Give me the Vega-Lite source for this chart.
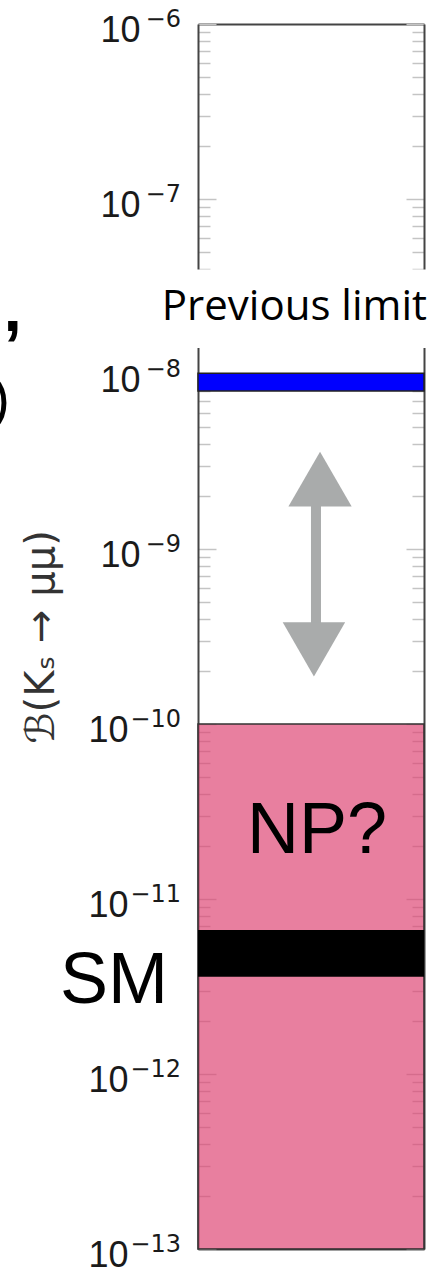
{
  "$schema": "https://vega.github.io/schema/vega-lite/v6.json",
  "width": 226,
  "height": 1225,
  "autosize": {"type": "none"},
  "padding": {"left": 198, "top": 24, "right": 14, "bottom": 18},
  "background": "white",
  "config": {"view": {"stroke": null}},
  "datasets": {
    "bands": [
      {"band": "NP", "lo": 1e-13, "hi": 1e-10},
      {"band": "SM", "lo": 3.6e-12, "hi": 6.65e-12},
      {"band": "Previous limit", "lo": 8.0e-9, "hi": 1.01e-8}
    ],
    "gap": [{"lo": 1.41e-8, "hi": 3.95e-8}],
    "arrow": [{"lower": 2.67e-10, "upper": 2.51e-9, "shaft_lo": 3.63e-10, "shaft_hi": 1.78e-9}],
    "exps": [
      {"value": 1e-6, "exp": "−6"},
      {"value": 1e-7, "exp": "−7"},
      {"value": 1e-8, "exp": "−8"},
      {"value": 1e-9, "exp": "−9"},
      {"value": 1e-10, "exp": "−10"},
      {"value": 1e-11, "exp": "−11"},
      {"value": 1e-12, "exp": "−12"},
      {"value": 1e-13, "exp": "−13"}
    ],
    "labels": [
      {"label": "NP?", "y": 1.83e-11},
      {"label": "SM", "y": 2.55e-12},
      {"label": "Previous limit", "y": 2.04e-8},
      {"label": ",", "y": 1.75e-8},
      {"label": ")", "y": 7.1e-9}
    ]
  },
  "layer": [
    {
      "data": {"name": "bands"},
      "transform": [{"filter": "datum.band === 'NP'"}],
      "mark": {"type": "rect", "fill": "#dd4070", "fillOpacity": 0.67, "stroke": "#333333", "strokeWidth": 1.5, "clip": false},
      "encoding": {
        "y": {
          "field": "lo", "type": "quantitative",
          "scale": {"type": "log", "domain": [1e-13, 1e-6], "nice": false},
          "axis": {
            "orient": "left", "zindex": 0, "grid": false,
            "values": [1e-13, 2e-13, 3e-13, 4e-13, 5e-13, 6e-13, 7e-13, 8e-13, 9e-13,
                       1e-12, 2e-12, 3e-12, 4e-12, 5e-12, 6e-12, 7e-12, 8e-12, 9e-12,
                       1e-11, 2e-11, 3e-11, 4e-11, 5e-11, 6e-11, 7e-11, 8e-11, 9e-11,
                       1e-10, 2e-10, 3e-10, 4e-10, 5e-10, 6e-10, 7e-10, 8e-10, 9e-10,
                       1e-9, 2e-9, 3e-9, 4e-9, 5e-9, 6e-9, 7e-9, 8e-9, 9e-9,
                       1e-8, 2e-8, 3e-8, 4e-8, 5e-8, 6e-8, 7e-8, 8e-8, 9e-8,
                       1e-7, 2e-7, 3e-7, 4e-7, 5e-7, 6e-7, 7e-7, 8e-7, 9e-7, 1e-6],
            "tickSize": {"condition": {"test": "abs(log(datum.value)/LN10 - round(log(datum.value)/LN10)) < 0.001", "value": -18}, "value": -12},
            "tickColor": "#c4c4c4", "tickWidth": 1.5,
            "domain": true, "domainColor": "#444444", "domainWidth": 2,
            "labelExpr": "abs(log(datum.value)/LN10 - round(log(datum.value)/LN10)) < 0.001 ? '10' : ''",
            "labelFont": "Liberation Sans", "labelFontSize": 36, "labelColor": "#1a1a1a",
            "labelPadding": {"condition": {"test": "datum.value < 2e-10", "value": 88}, "value": 76},
            "labelOffset": 6,
            "labelOverlap": false, "labelBaseline": "middle", "labelAlign": "right",
            "title": "ℬ(Kₛ → μμ)", "titleFont": "DejaVu Sans", "titleFontSize": 40,
            "titleFontWeight": "normal", "titleColor": "#333333", "titlePadding": 26
          }
        },
        "y2": {"field": "hi"},
        "x": {
          "datum": 0, "type": "quantitative",
          "scale": {"domain": [0, 1], "nice": false, "zero": false},
          "axis": {"orient": "bottom", "zindex": 0, "ticks": false, "labels": false, "grid": false, "domain": true, "domainColor": "#444444", "domainWidth": 2, "title": null}
        },
        "x2": {"datum": 1}
      }
    },
    {
      "data": {"name": "gap"},
      "mark": {"type": "rect", "fill": "white", "clip": false},
      "encoding": {
        "y": {
          "field": "lo", "type": "quantitative",
          "scale": {"type": "log", "domain": [1e-13, 1e-6], "nice": false},
          "axis": {
            "orient": "right", "zindex": 0, "grid": false,
            "values": [1e-13, 2e-13, 3e-13, 4e-13, 5e-13, 6e-13, 7e-13, 8e-13, 9e-13,
                       1e-12, 2e-12, 3e-12, 4e-12, 5e-12, 6e-12, 7e-12, 8e-12, 9e-12,
                       1e-11, 2e-11, 3e-11, 4e-11, 5e-11, 6e-11, 7e-11, 8e-11, 9e-11,
                       1e-10, 2e-10, 3e-10, 4e-10, 5e-10, 6e-10, 7e-10, 8e-10, 9e-10,
                       1e-9, 2e-9, 3e-9, 4e-9, 5e-9, 6e-9, 7e-9, 8e-9, 9e-9,
                       1e-8, 2e-8, 3e-8, 4e-8, 5e-8, 6e-8, 7e-8, 8e-8, 9e-8,
                       1e-7, 2e-7, 3e-7, 4e-7, 5e-7, 6e-7, 7e-7, 8e-7, 9e-7, 1e-6],
            "tickSize": {"condition": {"test": "abs(log(datum.value)/LN10 - round(log(datum.value)/LN10)) < 0.001", "value": -18}, "value": -12},
            "tickColor": "#c4c4c4", "tickWidth": 1.5,
            "domain": true, "domainColor": "#444444", "domainWidth": 2,
            "labels": false, "title": null
          }
        },
        "y2": {"field": "hi"},
        "x": {
          "datum": -0.1, "type": "quantitative",
          "scale": {"domain": [0, 1], "nice": false, "zero": false},
          "axis": {"orient": "top", "zindex": 0, "ticks": false, "labels": false, "grid": false, "domain": true, "domainColor": "#444444", "domainWidth": 2, "title": null}
        },
        "x2": {"datum": 1.1}
      }
    },
    {
      "data": {"name": "exps"},
      "mark": {"type": "text", "font": "DejaVu Sans", "fontSize": 24, "color": "#1a1a1a", "align": "right", "baseline": "alphabetic", "dx": -17, "dy": 3, "clip": false},
      "encoding": {
        "text": {"field": "exp"},
        "y": {"field": "value", "type": "quantitative", "scale": {"type": "log", "domain": [1e-13, 1e-6], "nice": false}, "axis": null},
        "x": {"datum": 0, "type": "quantitative", "scale": {"domain": [0, 1], "nice": false, "zero": false}, "axis": null}
      }
    },
    {
      "data": {"name": "bands"},
      "transform": [{"filter": "datum.band === 'Previous limit'"}],
      "mark": {"type": "rect", "fill": "#0000ff", "stroke": "#222222", "strokeWidth": 1.5, "clip": false},
      "encoding": {
        "y": {"field": "lo", "type": "quantitative", "scale": {"type": "log", "domain": [1e-13, 1e-6], "nice": false}, "axis": null},
        "y2": {"field": "hi"},
        "x": {"datum": 0, "type": "quantitative", "scale": {"domain": [0, 1], "nice": false, "zero": false}, "axis": null},
        "x2": {"datum": 1}
      }
    },
    {
      "data": {"name": "bands"},
      "transform": [{"filter": "datum.band === 'SM'"}],
      "mark": {"type": "rect", "fill": "#000000", "clip": false},
      "encoding": {
        "y": {"field": "lo", "type": "quantitative", "scale": {"type": "log", "domain": [1e-13, 1e-6], "nice": false}, "axis": null},
        "y2": {"field": "hi"},
        "x": {"datum": 0, "type": "quantitative", "scale": {"domain": [0, 1], "nice": false, "zero": false}, "axis": null},
        "x2": {"datum": 1}
      }
    },
    {
      "data": {"name": "arrow"},
      "mark": {"type": "rule", "color": "#a9abab", "strokeWidth": 10, "strokeCap": "butt", "clip": false},
      "encoding": {
        "y": {"field": "shaft_lo", "type": "quantitative", "scale": {"type": "log", "domain": [1e-13, 1e-6], "nice": false}, "axis": null},
        "y2": {"field": "shaft_hi"},
        "x": {"datum": 0.522, "type": "quantitative", "scale": {"domain": [0, 1], "nice": false, "zero": false}, "axis": null}
      }
    },
    {
      "data": {"name": "arrow"},
      "mark": {"type": "point", "shape": "triangle-up", "filled": true, "size": 4000, "color": "#a9abab", "opacity": 1, "clip": false},
      "encoding": {
        "y": {"field": "upper", "type": "quantitative", "scale": {"type": "log", "domain": [1e-13, 1e-6], "nice": false}, "axis": null},
        "x": {"datum": 0.54, "type": "quantitative", "scale": {"domain": [0, 1], "nice": false, "zero": false}, "axis": null}
      }
    },
    {
      "data": {"name": "arrow"},
      "mark": {"type": "point", "shape": "triangle-down", "filled": true, "size": 3900, "color": "#a9abab", "opacity": 1, "clip": false},
      "encoding": {
        "y": {"field": "lower", "type": "quantitative", "scale": {"type": "log", "domain": [1e-13, 1e-6], "nice": false}, "axis": null},
        "x": {"datum": 0.513, "type": "quantitative", "scale": {"domain": [0, 1], "nice": false, "zero": false}, "axis": null}
      }
    },
    {
      "data": {"name": "labels"},
      "transform": [{"filter": "datum.label === 'NP?'"}],
      "mark": {"type": "text", "font": "Liberation Sans", "fontSize": 72, "color": "#000000", "align": "center", "baseline": "alphabetic", "clip": false},
      "encoding": {
        "text": {"field": "label"},
        "y": {"field": "y", "type": "quantitative", "scale": {"type": "log", "domain": [1e-13, 1e-6], "nice": false}, "axis": null},
        "x": {"datum": 0.527, "type": "quantitative", "scale": {"domain": [0, 1], "nice": false, "zero": false}, "axis": null}
      }
    },
    {
      "data": {"name": "labels"},
      "transform": [{"filter": "datum.label === 'SM'"}],
      "mark": {"type": "text", "font": "Liberation Sans", "fontSize": 72, "color": "#000000", "align": "right", "baseline": "alphabetic", "dx": -30, "clip": false},
      "encoding": {
        "text": {"field": "label"},
        "y": {"field": "y", "type": "quantitative", "scale": {"type": "log", "domain": [1e-13, 1e-6], "nice": false}, "axis": null},
        "x": {"datum": 0, "type": "quantitative", "scale": {"domain": [0, 1], "nice": false, "zero": false}, "axis": null}
      }
    },
    {
      "data": {"name": "labels"},
      "transform": [{"filter": "datum.label === 'Previous limit'"}],
      "mark": {"type": "text", "font": "Open Sans", "fontSize": 42, "color": "#000000", "align": "right", "baseline": "alphabetic", "dx": 3, "clip": false},
      "encoding": {
        "text": {"field": "label"},
        "y": {"field": "y", "type": "quantitative", "scale": {"type": "log", "domain": [1e-13, 1e-6], "nice": false}, "axis": null},
        "x": {"datum": 1, "type": "quantitative", "scale": {"domain": [0, 1], "nice": false, "zero": false}, "axis": null}
      }
    },
    {
      "data": {"name": "labels"},
      "transform": [{"filter": "datum.label === ','"}],
      "mark": {"type": "text", "font": "Liberation Sans", "fontSize": 66, "fontWeight": "bold", "color": "#000000", "align": "center", "baseline": "alphabetic", "clip": false},
      "encoding": {
        "text": {"field": "label"},
        "y": {"field": "y", "type": "quantitative", "scale": {"type": "log", "domain": [1e-13, 1e-6], "nice": false}, "axis": null},
        "x": {"datum": -0.82, "type": "quantitative", "scale": {"domain": [0, 1], "nice": false, "zero": false}, "axis": null}
      }
    },
    {
      "data": {"name": "labels"},
      "transform": [{"filter": "datum.label === ')'"}],
      "mark": {"type": "text", "font": "Liberation Sans", "fontSize": 56, "color": "#000000", "align": "right", "baseline": "middle", "clip": false},
      "encoding": {
        "text": {"field": "label"},
        "y": {"field": "y", "type": "quantitative", "scale": {"type": "log", "domain": [1e-13, 1e-6], "nice": false}, "axis": null},
        "x": {"datum": -0.832, "type": "quantitative", "scale": {"domain": [0, 1], "nice": false, "zero": false}, "axis": null}
      }
    }
  ],
  "resolve": {"axis": {"x": "independent", "y": "independent"}}
}
